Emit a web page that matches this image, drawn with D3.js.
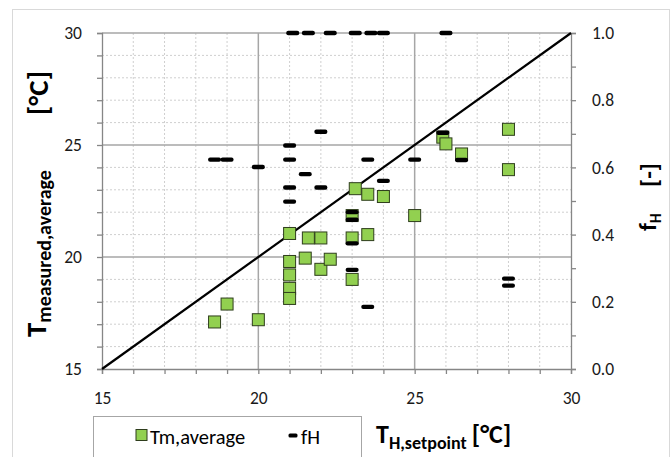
<!DOCTYPE html>
<html>
<head>
<meta charset="utf-8">
<script src="https://cdn.jsdelivr.net/npm/d3@7"></script>
<style>
  body { margin: 0; background: #fff; }
  text { font-family: Carlito, Calibri, Lato, sans-serif; }
</style>
</head>
<body>
<div id="chart"></div>
<script>
// Tm,average series (x = heating setpoint, y = measured average temperature)
var tmSetpoint = [18.6, 19.0, 20.0, 21.0, 21.0, 21.0, 21.0, 21.0, 21.5, 21.6, 22.0, 22.0, 22.3,
                  23.0, 23.0, 23.0, 23.1, 23.5, 23.5, 24.0, 25.0, 25.9, 26.0, 26.5, 28.0, 28.0];
var tmAverage  = [17.1, 17.9, 17.2, 21.05, 19.8, 19.2, 18.6, 18.15, 19.95, 20.85, 20.85, 19.45, 19.9,
                  19.0, 20.85, 21.85, 23.05, 22.8, 21.0, 22.7, 21.85, 25.35, 25.05, 24.6, 25.7, 23.9];

// fH series (right axis)
var fhSetpoint = [18.6, 19.0, 20.0, 21.0, 21.0, 21.0, 21.0, 21.1, 21.5, 21.6, 22.0, 22.0, 22.3,
                  23.0, 23.0, 23.0, 23.0, 23.1, 23.5, 23.5, 23.6, 24.0, 24.0, 25.0, 25.9, 26.0,
                  26.5, 28.0, 28.0];
var fhValue    = [0.623, 0.623, 0.601, 0.665, 0.623, 0.54, 0.498, 1.0, 0.58, 1.0, 0.706, 0.54, 1.0,
                  0.467, 0.444, 0.374, 0.295, 1.0, 0.623, 0.185, 1.0, 1.0, 0.56, 0.623, 0.703, 1.0,
                  0.622, 0.269, 0.248];

// 1:1 reference line
var diagX = [15, 30];
var diagY = [15, 30];

// tick labels
var xTicks = [15, 20, 25, 30];
var yTicks = [15, 20, 25, 30];
var fTicks = [0, 0.2, 0.4, 0.6, 0.8, 1.0];

var margin = {top: 33, left: 102},
    width = 469,
    height = 336;

var svg0 = d3.select("#chart")
  .append("svg")
    .attr("width", 672)
    .attr("height", 457);

// outer chart border
svg0.append("rect")
  .attr("x", 12.5).attr("y", 9.5)
  .attr("width", 657).attr("height", 460)
  .attr("fill", "none")
  .attr("stroke", "#d9d9d9");

var svg = svg0.append("g")
  .attr("transform", "translate(" + margin.left + "," + margin.top + ")");

var x = d3.scaleLinear().domain([15, 30]).range([0, width]);
var y = d3.scaleLinear().domain([15, 30]).range([height, 0]);
var yR = d3.scaleLinear().domain([0, 1]).range([height, 0]);

// minor gridlines
var minor = d3.range(16, 30).filter(function(d) { return d % 5 != 0; });
svg.selectAll(".vminor").data(minor).enter().append("line")
  .attr("x1", function(d) { return x(d); }).attr("x2", function(d) { return x(d); })
  .attr("y1", 0).attr("y2", height)
  .attr("stroke", "#cfcfcf").attr("stroke-dasharray", "2,2");
svg.selectAll(".hminor").data(minor).enter().append("line")
  .attr("y1", function(d) { return y(d); }).attr("y2", function(d) { return y(d); })
  .attr("x1", 0).attr("x2", width)
  .attr("stroke", "#cfcfcf").attr("stroke-dasharray", "2,2");

// major gridlines
svg.selectAll(".vmajor").data([20, 25]).enter().append("line")
  .attr("x1", function(d) { return x(d); }).attr("x2", function(d) { return x(d); })
  .attr("y1", 0).attr("y2", height)
  .attr("stroke", "#a6a6a6").attr("stroke-width", 1.5);
svg.selectAll(".hmajor").data([20, 25, 30]).enter().append("line")
  .attr("y1", function(d) { return y(d); }).attr("y2", function(d) { return y(d); })
  .attr("x1", 0).attr("x2", width)
  .attr("stroke", "#a6a6a6").attr("stroke-width", 1.5);

// axes
var unit = d3.range(15, 31);
var has = function(arr, d) { return arr.some(function(t) { return Math.abs(t - d) < 1e-9; }); };

var gx = svg.append("g")
  .attr("transform", "translate(0," + height + ")")
  .call(d3.axisBottom(x).tickValues(unit).tickSize(5).tickPadding(18)
    .tickFormat(function(d) { return has(xTicks, d) ? d : ""; }));
var gy = svg.append("g")
  .call(d3.axisLeft(y).tickValues(unit).tickSize(5).tickPadding(15)
    .tickFormat(function(d) { return has(yTicks, d) ? d : ""; }));
var gr = svg.append("g")
  .attr("transform", "translate(" + width + ",0)")
  .call(d3.axisRight(yR).tickValues(d3.range(0, 11).map(function(i) { return i / 10; }))
    .tickSize(5).tickPadding(16)
    .tickFormat(function(d) { return has(fTicks, d) ? d3.format(".1f")(d) : ""; }));

[gx, gy, gr].forEach(function(g) {
  g.selectAll("path, line").attr("stroke", "#868686").attr("stroke-width", 1.3);
  g.selectAll("text").attr("fill", "#1a1a1a").style("font-size", "17.5px")
    .style("font-family", "Carlito, Calibri, Lato, sans-serif");
});

// diagonal line
svg.append("path")
  .datum(d3.zip(diagX, diagY))
  .attr("d", d3.line().x(function(d) { return x(d[0]); }).y(function(d) { return y(d[1]); }))
  .attr("stroke", "#000").attr("stroke-width", 2.2).attr("fill", "none");

// Tm squares
var sq = 12;
svg.selectAll(".tm").data(d3.zip(tmSetpoint, tmAverage)).enter().append("rect")
  .attr("x", function(d) { return x(d[0]) - sq / 2; })
  .attr("y", function(d) { return y(d[1]) - sq / 2; })
  .attr("width", sq).attr("height", sq)
  .attr("fill", "#92d050")
  .attr("stroke", "#2e3d1c").attr("stroke-width", 1);

// fH dashes
svg.selectAll(".fh").data(d3.zip(fhSetpoint, fhValue)).enter().append("rect")
  .attr("x", function(d) { return x(d[0]) - 6.5; })
  .attr("y", function(d) { return yR(d[1]) - 2.2; })
  .attr("width", 13).attr("height", 4.4)
  .attr("rx", 2)
  .attr("fill", "#000");

// left title
var lt = svg0.append("text")
  .attr("transform", "translate(46,337) rotate(-90)")
  .attr("font-weight", "bold").attr("fill", "#000");
lt.append("tspan").style("font-size", "29px").text("T");
lt.append("tspan").style("font-size", "20px").attr("dy", 5).text("measured,average");
svg0.append("text")
  .attr("transform", "translate(48,93) rotate(-90)")
  .attr("text-anchor", "middle")
  .attr("font-weight", "bold").style("font-size", "29px")
  .text("[°C]");

// right title
var rt = svg0.append("text")
  .attr("transform", "translate(656,231) rotate(-90)")
  .attr("font-weight", "bold").attr("fill", "#000");
rt.append("tspan").style("font-size", "25px").text("f");
rt.append("tspan").style("font-size", "15px").attr("dy", 5).text("H");
svg0.append("text")
  .attr("transform", "translate(657,175) rotate(-90)")
  .attr("text-anchor", "middle")
  .attr("font-weight", "bold").style("font-size", "25px")
  .text("[-]");

// bottom title
var bt = svg0.append("text")
  .attr("x", 376).attr("y", 443)
  .attr("font-weight", "bold").attr("fill", "#000");
bt.append("tspan").style("font-size", "26px").text("T");
bt.append("tspan").style("font-size", "18px").attr("dy", 6).text("H,setpoint");
bt.append("tspan").style("font-size", "26px").attr("dy", -6).attr("dx", 5).text("[°C]");

// legend
var lg = svg0.append("g");
lg.append("rect")
  .attr("x", 93.5).attr("y", 416.5).attr("width", 268).attr("height", 50)
  .attr("fill", "#fff").attr("stroke", "#a6a6a6");
lg.append("rect")
  .attr("x", 136).attr("y", 429.5).attr("width", 11).attr("height", 11)
  .attr("fill", "#92d050").attr("stroke", "#2e3d1c");
lg.append("text").attr("x", 150).attr("y", 444).style("font-size", "20.5px").text("Tm,average");
lg.append("rect")
  .attr("x", 288.5).attr("y", 433.5).attr("width", 9).attr("height", 4).attr("rx", 1.5)
  .attr("fill", "#000");
lg.append("text").attr("x", 301).attr("y", 444).style("font-size", "20.5px").text("fH");
</script>
</body>
</html>
